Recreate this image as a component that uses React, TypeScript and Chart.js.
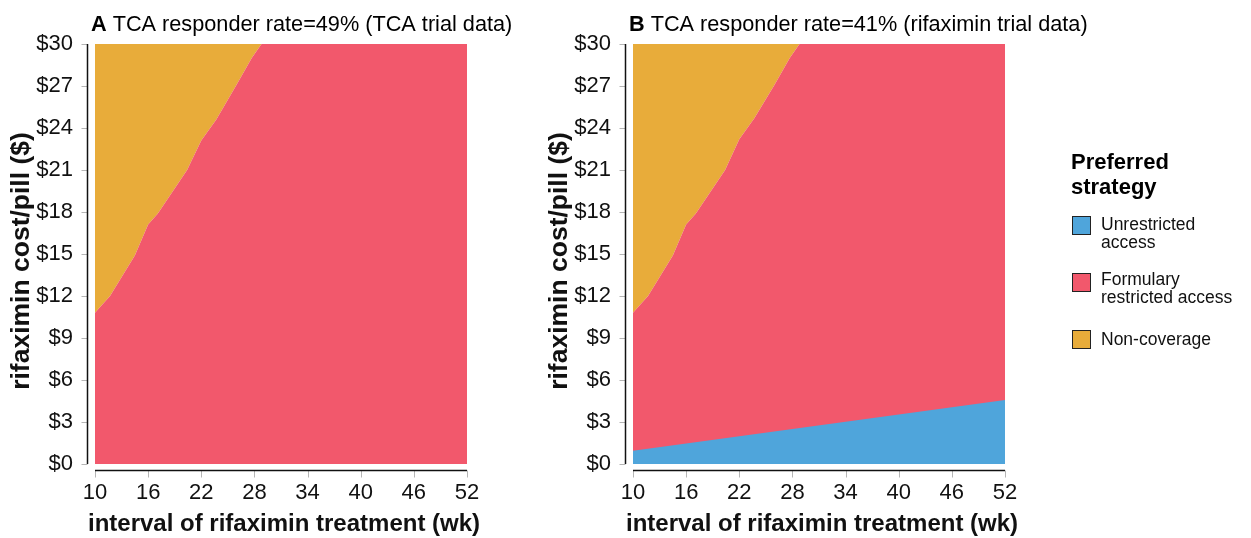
import React, { useEffect, useRef } from "react";
import { Chart, registerables } from "chart.js";

Chart.register(...registerables);

// ---- data ----
const boundaryWeeks = [10, 11.7, 14.5, 16, 17.1, 20.4, 22, 23.7, 26, 27.7, 28.8, 52];
const boundaryCostA = [10.8, 12, 14.9, 17.1, 17.9, 21, 23.1, 24.6, 27.1, 29, 30, 30];
const boundaryCostB = [10.8, 12, 14.9, 17.1, 17.9, 21, 23.2, 24.7, 27.1, 29, 30, 30];
const unrestrictedWeeks = [10, 52];
const unrestrictedCostB = [0.95, 4.57];
const xTickValues = [10, 16, 22, 28, 34, 40, 46, 52];
const yTickValues = [0, 3, 6, 9, 12, 15, 18, 21, 24, 27, 30];
const legendLabels = [
  ["Unrestricted", "access"],
  ["Formulary", "restricted access"],
  ["Non-coverage"],
];

const ORANGE = "#E8AC3A";
const RED = "#F2586C";
const BLUE = "#4FA5DB";
const FONT = "'Liberation Sans', Arial, Helvetica, sans-serif";

const axisPlugin = {
  id: "offsetAxes",
  afterDraw(chart: any, _args: any, opts: any) {
    const { ctx, chartArea } = chart;
    const x = chart.scales.x;
    const y = chart.scales.y;
    const ax = chartArea.left - 7.5;
    const ay = chartArea.bottom + 6.5;
    ctx.save();
    ctx.strokeStyle = "#b5b5b5";
    ctx.lineWidth = 1;
    yTickValues.forEach((v) => {
      const py = Math.round(y.getPixelForValue(v)) + 0.5;
      ctx.beginPath();
      ctx.moveTo(ax - 6, py);
      ctx.lineTo(ax, py);
      ctx.stroke();
    });
    xTickValues.forEach((v) => {
      const px = Math.round(x.getPixelForValue(v)) + 0.5;
      ctx.beginPath();
      ctx.moveTo(px, ay);
      ctx.lineTo(px, ay + 7);
      ctx.stroke();
    });
    ctx.strokeStyle = "#111";
    ctx.lineWidth = 1.5;
    ctx.beginPath();
    ctx.moveTo(ax, y.getPixelForValue(30));
    ctx.lineTo(ax, y.getPixelForValue(0));
    ctx.stroke();
    ctx.beginPath();
    ctx.moveTo(x.getPixelForValue(10), ay);
    ctx.lineTo(x.getPixelForValue(52), ay);
    ctx.stroke();

    // panel title
    ctx.fillStyle = "#000";
    ctx.textBaseline = "alphabetic";
    ctx.textAlign = "left";
    const tx = chartArea.left - 4;
    const ty = 31;
    ctx.font = `bold 21.7px ${FONT}`;
    ctx.fillText(opts.letter, tx, ty);
    const w = ctx.measureText(opts.letter).width;
    ctx.font = `21.7px ${FONT}`;
    ctx.fillText(" " + opts.text, tx + w, ty);

    // x axis title
    ctx.fillStyle = "#111";
    ctx.textAlign = "center";
    ctx.textBaseline = "alphabetic";
    ctx.font = `bold 24px ${FONT}`;
    ctx.fillText("interval of rifaximin treatment (wk)", (chartArea.left + chartArea.right) / 2 + 3, 531);

    // y axis title
    ctx.save();
    ctx.translate(22, (y.getPixelForValue(30) + y.getPixelForValue(0)) / 2 + 7);
    ctx.rotate(-Math.PI / 2);
    ctx.textAlign = "center";
    ctx.textBaseline = "middle";
    ctx.font = `bold 26.5px ${FONT}`;
    ctx.fillText("rifaximin cost/pill ($)", 0, 0);
    ctx.restore();
    ctx.restore();
  },
};

function toXY(xs: number[], ys: number[]) {
  return xs.map((v, i) => ({ x: v, y: ys[i] }));
}

function makeConfig(letter: string, text: string, boundary: number[], withBlue: boolean, rightPad: number): any {
  const common = { borderWidth: 0, pointRadius: 0, tension: 0 };
  const datasets: any[] = [];
  if (withBlue) {
    datasets.push({ ...common, label: "Unrestricted access", data: toXY(unrestrictedWeeks, unrestrictedCostB), fill: "origin", backgroundColor: BLUE, borderColor: BLUE });
  }
  datasets.push({ ...common, label: "Formulary restricted access", data: toXY(boundaryWeeks, boundary), fill: "origin", backgroundColor: RED, borderColor: RED });
  datasets.push({ ...common, label: "Non-coverage", data: toXY(boundaryWeeks, boundary), fill: "end", backgroundColor: ORANGE, borderColor: ORANGE });
  return {
    type: "line",
    data: { datasets },
    options: {
      responsive: false,
      animation: false,
      events: [],
      layout: { padding: { top: 44, right: rightPad, left: 0, bottom: 0 } },
      plugins: {
        legend: { display: false },
        tooltip: { enabled: false },
        offsetAxes: { letter, text },
      },
      scales: {
        x: {
          type: "linear",
          min: 10,
          max: 52,
          afterBuildTicks: (s: any) => {
            s.ticks = xTickValues.map((v) => ({ value: v }));
          },
          afterFit: (s: any) => {
            s.height = 74;
          },
          grid: { drawOnChartArea: false, color: "rgba(0,0,0,0)", tickLength: 14 },
          border: { display: false },
          ticks: { autoSkip: false, maxRotation: 0, padding: 2, color: "#111", font: { family: FONT, size: 22 } },
          title: { display: false },
        },
        y: {
          type: "linear",
          min: 0,
          max: 30,
          afterBuildTicks: (s: any) => {
            s.ticks = yTickValues.map((v) => ({ value: v }));
          },
          afterFit: (s: any) => {
            s.width = 95;
          },
          grid: { drawOnChartArea: false, color: "rgba(0,0,0,0)", tickLength: 14 },
          border: { display: false },
          ticks: { autoSkip: false, padding: 8, color: "#111", font: { family: FONT, size: 22 }, callback: (v: any) => "$" + v },
          title: { display: false },
        },
      },
    },
    plugins: [axisPlugin],
  };
}

function Panel({ left, width, letter, text, boundary, withBlue }: any) {
  const ref = useRef<HTMLCanvasElement>(null);
  useEffect(() => {
    const chart = new Chart(ref.current as HTMLCanvasElement, makeConfig(letter, text, boundary, withBlue, width - 467));
    return () => chart.destroy();
  }, []);
  return (
    <canvas
      ref={ref}
      width={width}
      height={538}
      style={{ position: "absolute", left, top: 0, width, height: 538 }}
    />
  );
}

const legendColors = [BLUE, RED, ORANGE];
const legendTops = [216, 273, 330];
const legendTextTops = [214.5, 269.5, 329.5];

export default function App() {
  return (
    <div style={{ position: "fixed", left: 0, top: 0, width: 1251, height: 538, background: "#fff", fontFamily: FONT, overflow: "hidden" }}>
      <Panel left={0} width={540} letter="A" text="TCA responder rate=49% (TCA trial data)" boundary={boundaryCostA} withBlue={false} />
      <Panel left={538} width={620} letter="B" text="TCA responder rate=41% (rifaximin trial data)" boundary={boundaryCostB} withBlue={true} />
      <div style={{ position: "absolute", left: 1071, top: 149, fontWeight: "bold", fontSize: 22, lineHeight: "25px", color: "#000" }}>
        Preferred
        <br />
        strategy
      </div>
      {legendLabels.map((lines, i) => (
        <React.Fragment key={i}>
          <div style={{ position: "absolute", left: 1072, top: legendTops[i], width: 17, height: 17, background: legendColors[i], border: "1px solid #222" }} />
          <div style={{ position: "absolute", left: 1101, top: legendTextTops[i], fontSize: 17.5, lineHeight: "18px", color: "#111", whiteSpace: "nowrap" }}>
            {lines.map((l, j) => (
              <div key={j}>{l}</div>
            ))}
          </div>
        </React.Fragment>
      ))}
    </div>
  );
}
